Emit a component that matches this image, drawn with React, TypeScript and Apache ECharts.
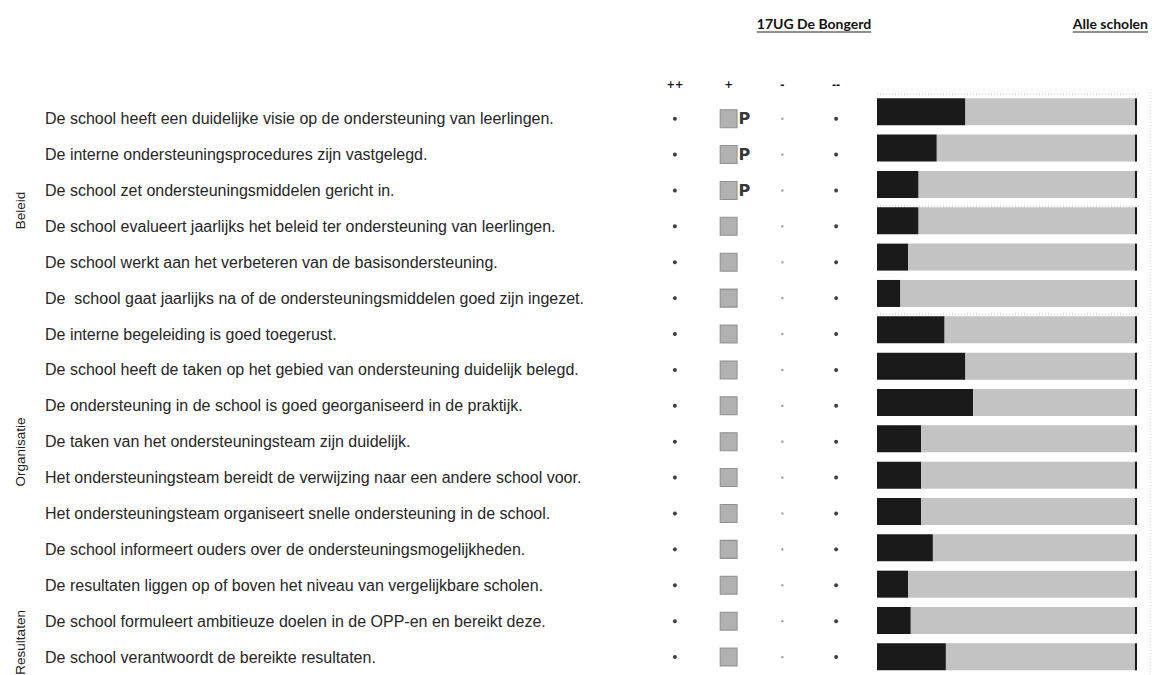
import React, { useEffect, useRef } from "react";
import * as echarts from "echarts";

// ---- data ----
const statements = [
  "De school heeft een duidelijke visie op de ondersteuning van leerlingen.",
  "De interne ondersteuningsprocedures zijn vastgelegd.",
  "De school zet ondersteuningsmiddelen gericht in.",
  "De school evalueert jaarlijks het beleid ter ondersteuning van leerlingen.",
  "De school werkt aan het verbeteren van de basisondersteuning.",
  "De  school gaat jaarlijks na of de ondersteuningsmiddelen goed zijn ingezet.",
  "De interne begeleiding is goed toegerust.",
  "De school heeft de taken op het gebied van ondersteuning duidelijk belegd.",
  "De ondersteuning in de school is goed georganiseerd in de praktijk.",
  "De taken van het ondersteuningsteam zijn duidelijk.",
  "Het ondersteuningsteam bereidt de verwijzing naar een andere school voor.",
  "Het ondersteuningsteam organiseert snelle ondersteuning in de school.",
  "De school informeert ouders over de ondersteuningsmogelijkheden.",
  "De resultaten liggen op of boven het niveau van vergelijkbare scholen.",
  "De school formuleert ambitieuze doelen in de OPP-en en bereikt deze.",
  "De school verantwoordt de bereikte resultaten.",
];
const scaleColumns = ["++", "+", "-", "--"];
// index in scaleColumns of the school's answer per statement
const schoolAnswer = [1, 1, 1, 1, 1, 1, 1, 1, 1, 1, 1, 1, 1, 1, 1, 1];
// statements marked with "P"
const pMarked = [1, 1, 1, 0, 0, 0, 0, 0, 0, 0, 0, 0, 0, 0, 0, 0];
// "Alle scholen": share (%) in dark part of the bar
const allSchoolsDark = [34, 23, 16, 16, 12, 9, 26, 34, 37, 17, 17, 17, 21.5, 12, 13, 26.5];
const groupNames = ["Beleid", "Organisatie", "Resultaten"];
const groupCenterRow = [2.5, 9.1, 14.3];
const titleSchool = "17UG De Bongerd";
const titleAll = "Alle scholen";

// ---- layout ----
const ROW0 = 119;
const ROWH = 36.6;
const BAR0 = 112;
const BARH = 36.8;
const BAR_LEFT = 877;
const BAR_W = 260;
const END_W = 0.8;

function textWidth(t: string, font: string) {
  const c = document.createElement("canvas");
  const ctx = c.getContext("2d")!;
  ctx.font = font;
  return ctx.measureText(t).width;
}

export default function App() {
  const ref = useRef<HTMLDivElement>(null);
  useEffect(() => {
    document.body.style.margin = "0";
    const chart = echarts.init(ref.current!, undefined, { renderer: "svg" });
    const N = statements.length;

    const dotsFor = (c: number) =>
      statements.map((_, i) => i).filter((i) => schoolAnswer[i] !== c).map((i) => [c, i]);
    const squares = statements.map((_, i) => [schoolAnswer[i], i]);

    const titleFont = "bold 14px Lato";
    const tW1 = textWidth(titleSchool, titleFont);
    const tW2 = textWidth(titleAll, titleFont);
    const t1x = 814;
    const t2x = 1148 - tW2 / 2;
    const ty = 23;

    const sepYs = [94, 206, 314, 426, 573];

    const graphics: any[] = [
      { type: "text", x: t1x, y: ty, style: { text: titleSchool, font: titleFont, fill: "#111", align: "center", verticalAlign: "middle" } },
      { type: "text", x: t2x, y: ty, style: { text: titleAll, font: titleFont, fill: "#111", align: "center", verticalAlign: "middle" } },
      { type: "line", shape: { x1: t1x - tW1 / 2, y1: ty + 9, x2: t1x + tW1 / 2, y2: ty + 9 }, style: { stroke: "#222", lineWidth: 1 } },
      { type: "line", shape: { x1: t2x - tW2 / 2, y1: ty + 9, x2: t2x + tW2 / 2, y2: ty + 9 }, style: { stroke: "#222", lineWidth: 1 } },
      { type: "line", shape: { x1: 1150, y1: 92, x2: 1150, y2: 675 }, style: { stroke: "#cfcfcf", lineWidth: 1, lineDash: [1, 2] } },
      ...sepYs.map((y) => ({
        type: "line",
        shape: { x1: BAR_LEFT, y1: y, x2: BAR_LEFT + BAR_W + 2, y2: y },
        style: { stroke: "#c4c4c4", lineWidth: 1, lineDash: [1, 2] },
      })),
      ...groupNames.map((g, k) => ({
        type: "text",
        x: 20,
        y: ROW0 + groupCenterRow[k] * ROWH,
        rotation: Math.PI / 2,
        style: { text: g, font: "13.5px 'Liberation Sans'", fill: "#222", align: "center", verticalAlign: "middle" },
      })),
    ];

    const option: any = {
      animation: false,
      backgroundColor: "#ffffff",
      grid: [
        { left: 648, top: ROW0 - ROWH / 2, width: 215, height: N * ROWH },
        { left: BAR_LEFT, top: BAR0 - BARH / 2, width: BAR_W, height: N * BARH },
      ],
      xAxis: [
        {
          gridIndex: 0,
          type: "category",
          data: scaleColumns,
          position: "top",
          axisLine: { show: false },
          axisTick: { show: false },
          splitLine: { show: false },
          axisLabel: { interval: 0, margin: 11, fontSize: 10, color: "#111", fontFamily: "DejaVu Sans", fontWeight: "bold" },
        },
        { gridIndex: 1, type: "value", min: 0, max: 100, show: false },
      ],
      yAxis: [
        {
          gridIndex: 0,
          type: "category",
          data: statements,
          inverse: true,
          axisLine: { show: false },
          axisTick: { show: false },
          splitLine: { show: false },
          axisLabel: { interval: 0, align: "left", margin: 603, fontSize: 16, color: "#262626", fontFamily: "Liberation Sans" },
        },
        { gridIndex: 1, type: "category", data: statements, inverse: true, show: false },
      ],
      series: [
        {
          type: "scatter", xAxisIndex: 0, yAxisIndex: 0, symbol: "circle", symbolSize: 4,
          itemStyle: { color: "#111" }, data: [...dotsFor(0), ...dotsFor(3)],
        },
        {
          type: "scatter", xAxisIndex: 0, yAxisIndex: 0, symbol: "circle", symbolSize: 2.5,
          itemStyle: { color: "#888" }, data: dotsFor(2),
        },
        {
          type: "scatter", xAxisIndex: 0, yAxisIndex: 0, symbol: "rect", symbolSize: [17, 18],
          itemStyle: { color: "#9e9e9e", borderColor: "#808080", borderWidth: 1 },
          data: squares,
          label: {
            show: true, position: "right", distance: 1,
            formatter: (p: any) => (pMarked[p.data[1]] ? "P" : ""),
            fontSize: 16, fontWeight: "bold", color: "#000", fontFamily: "DejaVu Sans",
          },
        },
        {
          type: "bar", xAxisIndex: 1, yAxisIndex: 1, stack: "all", barWidth: 27,
          itemStyle: { color: "#1a1a1a" }, data: allSchoolsDark,
        },
        {
          type: "bar", xAxisIndex: 1, yAxisIndex: 1, stack: "all", barWidth: 27,
          itemStyle: { color: "#c3c3c3" }, data: allSchoolsDark.map((v) => 100 - v - END_W),
        },
        {
          type: "bar", xAxisIndex: 1, yAxisIndex: 1, stack: "all", barWidth: 27,
          itemStyle: { color: "#1a1a1a" }, data: allSchoolsDark.map(() => END_W),
        },
      ],
      graphic: graphics,
    };
    chart.setOption(option);
    return () => chart.dispose();
  }, []);
  return <div ref={ref} style={{ position: "fixed", left: 0, top: 0, width: 1152, height: 675 }} />;
}
